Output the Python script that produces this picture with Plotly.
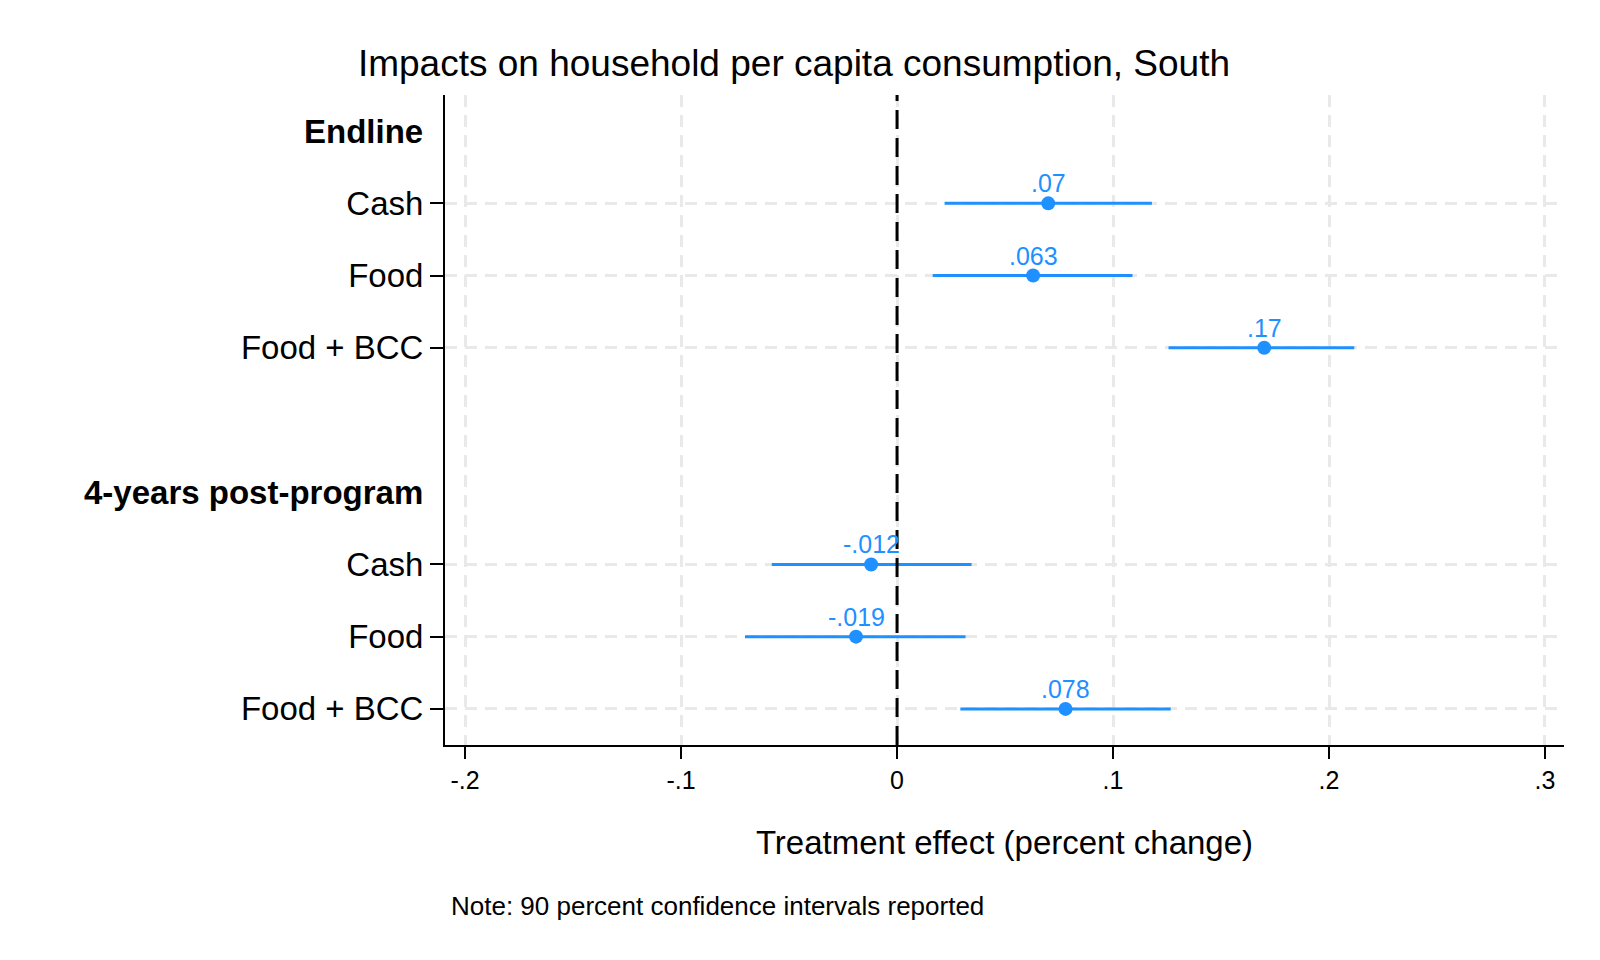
import plotly.graph_objects as go

# ---- data ----
row_labels = ["Cash", "Food", "Food + BCC", "Cash", "Food", "Food + BCC"]
row_pos = [1, 2, 3, 6, 7, 8]
header_labels = ["Endline", "4-years post-program"]
header_pos = [0, 5]
estimates = [0.07, 0.063, 0.17, -0.012, -0.019, 0.078]
ci_low = [0.022, 0.0165, 0.1257, -0.058, -0.0704, 0.0293]
ci_high = [0.118, 0.109, 0.2117, 0.0345, 0.0317, 0.1267]
est_text = [".07", ".063", ".17", "-.012", "-.019", ".078"]
x_tickvals = [-0.2, -0.1, 0, 0.1, 0.2, 0.3]
x_ticktext = ["-.2", "-.1", "0", ".1", ".2", ".3"]

BLUE = "#1E90FF"
FONT = "Liberation Sans, Arial, sans-serif"
GRID = "#e9e9e9"
W, H = 1584, 944  # page body has 8px margin

fig = go.Figure()
fig.add_trace(go.Scatter(
    x=estimates, y=row_pos, mode="markers",
    marker=dict(color=BLUE, size=14),
    error_x=dict(type="data", symmetric=False,
                 array=[h - e for h, e in zip(ci_high, estimates)],
                 arrayminus=[e - l for e, l in zip(estimates, ci_low)],
                 color=BLUE, thickness=3, width=0),
    showlegend=False, cliponaxis=False,
))

for e, p, t in zip(estimates, row_pos, est_text):
    fig.add_annotation(text=t, x=e, y=p, xref="x", yref="y", showarrow=False,
                       xanchor="center", yanchor="middle", yshift=20,
                       font=dict(family=FONT, size=25, color=BLUE))

fig.add_shape(type="line", xref="x", yref="paper", x0=0, x1=0, y0=0, y1=1,
              line=dict(color="black", width=3, dash="19px,9px"), layer="above")

for lab, pos in zip(header_labels, header_pos):
    fig.add_annotation(text="<b>%s</b>" % lab, xref="paper", yref="y", x=0, y=pos,
                       xanchor="right", yanchor="middle", xshift=-20, showarrow=False,
                       font=dict(family=FONT, size=33, color="black"))

fig.add_annotation(text="Note: 90 percent confidence intervals reported",
                   xref="paper", yref="paper", x=0, y=-(906 - 8 - 737) / 650, xshift=4,
                   xanchor="left", yanchor="middle", showarrow=False,
                   font=dict(family=FONT, size=26, color="black"))

fig.update_layout(
    width=W, height=H,
    paper_bgcolor="white", plot_bgcolor="white",
    margin=dict(l=437, r=28, t=87, b=207, autoexpand=False),
    font=dict(family=FONT, color="black"),
    title=dict(text="Impacts on household per capita consumption, South",
               x=(794 - 8) / W, xanchor="center", y=1 - (63 - 8) / H, yanchor="middle",
               yref="container", font=dict(family=FONT, size=37, color="black")),
)

fig.update_xaxes(
    range=[-0.2093, 0.3088], tickvals=x_tickvals, ticktext=x_ticktext,
    showline=True, linecolor="black", linewidth=2,
    ticks="outside", ticklen=12, tickwidth=2, tickcolor="black",
    tickfont=dict(family=FONT, size=25), automargin=False,
    showgrid=True, gridcolor=GRID, gridwidth=2.5, griddash="12px,8px",
    zeroline=False,
    title=dict(text="Treatment effect (percent change)", font=dict(family=FONT, size=33), standoff=38),
)
fig.update_yaxes(
    range=[8.5, -0.5], tickvals=row_pos, ticktext=row_labels,
    showline=True, linecolor="black", linewidth=2,
    ticks="outside", ticklen=13, tickwidth=2, tickcolor="black",
    tickfont=dict(family=FONT, size=33), automargin=False,
    showgrid=True, gridcolor=GRID, gridwidth=2.5, griddash="12px,8px",
    zeroline=False,
)

fig.write_html("out.html")
